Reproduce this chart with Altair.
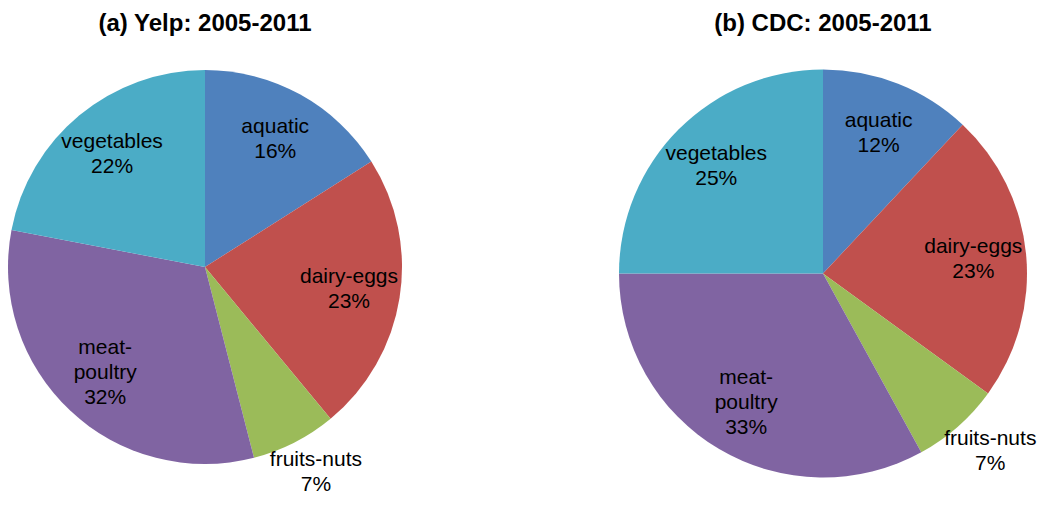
import altair as alt
import pandas as pd

categories = ["aquatic", "dairy-eggs", "fruits-nuts", "meat-poultry", "vegetables"]
yelp_shares = [16, 23, 7, 32, 22]
cdc_shares = [12, 23, 7, 33, 25]
titles = ["(a) Yelp: 2005-2011", "(b) CDC: 2005-2011"]
colors = ["#4F81BD", "#C0504D", "#9BBB59", "#8064A2", "#4BACC6"]

FONT = "Liberation Sans"
LH = 25


def pie(shares, title, R, w, h):
    df = pd.DataFrame({"category": categories, "share": shares})
    total = sum(shares)
    theta_scale = alt.Scale(domain=[0, total])
    base = alt.Chart(df)
    arcs = base.mark_arc(outerRadius=R).encode(
        theta=alt.Theta("share:Q", stack=True, scale=theta_scale),
        color=alt.Color(
            "category:N",
            scale=alt.Scale(domain=categories, range=colors),
            legend=None,
        ),
        order=alt.Order("category:N"),
    )
    tbase = base.transform_window(
        cum="sum(share)", sort=[{"field": "category"}]
    ).transform_calculate(
        mid="datum.cum - datum.share / 2",
        label="replace(datum.category, 'meat-', 'meat-\\n') + '\\n' + datum.share + '%'",
        outside="datum.share < 10",
        labelR=f"datum.share < 10 ? {1.24 * R} : {0.74 * R}",
    ).transform_calculate(
        lines="length(split(datum.label, '\\n'))"
    )
    enc = dict(
        theta=alt.Theta("mid:Q", stack=None, scale=theta_scale),
        radius=alt.Radius("labelR:Q", scale=None),
        text="label:N",
    )
    style = dict(font=FONT, fontSize=21, lineBreak="\n", lineHeight=LH, color="black")
    in2 = tbase.transform_filter("!datum.outside && datum.lines == 2").mark_text(
        dy=-LH / 2, **style
    ).encode(**enc)
    in3 = tbase.transform_filter("!datum.outside && datum.lines == 3").mark_text(
        dy=-LH, **style
    ).encode(**enc)
    out2 = tbase.transform_filter("datum.outside").mark_text(
        dy=-LH / 2 - 12, **style
    ).encode(**enc)
    return alt.layer(arcs, in2, in3, out2).properties(
        width=w,
        height=h,
        title=alt.TitleParams(
            title, font=FONT, fontSize=24, fontWeight="bold", color="black",
            anchor="middle", offset=6,
        ),
    )


left = pie(yelp_shares, titles[0], 197, 394, 450)
right = pie(cdc_shares, titles[1], 204, 408, 463)

chart = (
    alt.hconcat(left, right, spacing=217)
    .properties(padding={"top": 4, "left": 0, "right": 0, "bottom": 0})
    .configure_view(stroke=None)
)

chart.save("out.html", embed_options={"renderer": "svg", "actions": False})
